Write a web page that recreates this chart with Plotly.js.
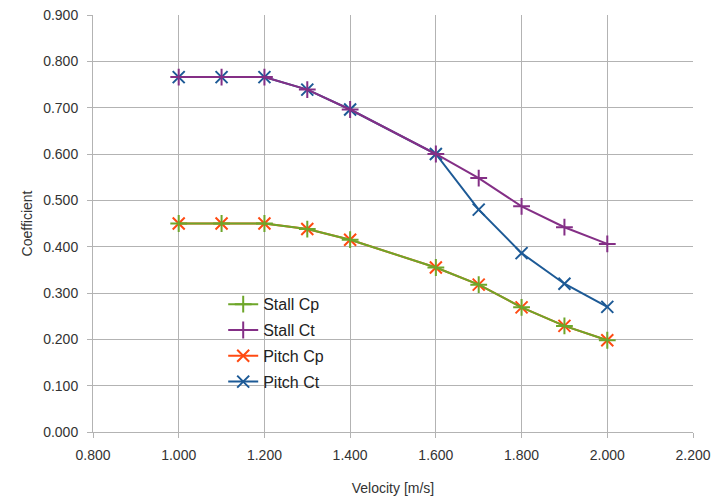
<!DOCTYPE html>
<html>
<head>
<meta charset="utf-8">
<script src="https://cdn.plot.ly/plotly-3.0.1.min.js"></script>
<style>html,body{margin:0;padding:0;background:#fff;}#chart{width:724px;height:499px;}</style>
</head>
<body>
<div id="chart"></div>
<script>
const velocity = [1.0, 1.1, 1.2, 1.3, 1.4, 1.6, 1.7, 1.8, 1.9, 2.0];
const stallCp = [0.450, 0.450, 0.450, 0.438, 0.415, 0.355, 0.318, 0.269, 0.229, 0.198];
const stallCt = [0.766, 0.766, 0.766, 0.739, 0.696, 0.600, 0.548, 0.487, 0.442, 0.406];
const pitchCp = [0.450, 0.450, 0.450, 0.438, 0.415, 0.355, 0.318, 0.269, 0.229, 0.198];
const pitchCt = [0.766, 0.766, 0.766, 0.739, 0.696, 0.600, 0.480, 0.386, 0.320, 0.270];
const xTicks = [0.8, 1.0, 1.2, 1.4, 1.6, 1.8, 2.0, 2.2];
const yTicks = [0, 0.1, 0.2, 0.3, 0.4, 0.5, 0.6, 0.7, 0.8, 0.9];

function tr(name, y, color, symbol, rank) {
  return {
    x: velocity, y: y, name: name, type: 'scatter', mode: 'lines+markers',
    line: {color: color, width: 2},
    marker: {symbol: symbol, size: 12, color: color, line: {color: color, width: 2}},
    legendgroup: name, legendrank: rank
  };
}
const data = [
  tr('Pitch Cp', pitchCp, '#ff4a12', 'x-thin', 3),
  tr('Pitch Ct', pitchCt, '#1d5a96', 'x-thin', 4),
  tr('Stall Cp', stallCp, '#6ea62a', 'cross-thin', 1),
  tr('Stall Ct', stallCt, '#842f86', 'cross-thin', 2)
];
const FAM = 'Liberation Sans, Arial, sans-serif';
const fnt = {family: FAM, size: 14, color: '#333'};
const layout = {
  width: 724, height: 499,
  margin: {l: 93, r: 31, t: 15, b: 67},
  paper_bgcolor: '#fff', plot_bgcolor: '#fff',
  font: fnt,
  showlegend: true,
  legend: {x: 0.217, y: 0.347, xanchor: 'left', yanchor: 'top', bgcolor: 'rgba(0,0,0,0)',
           font: {family: FAM, size: 16, color: '#222'},
           tracegroupgap: 2, traceorder: 'grouped'},
  xaxis: {
    range: [0.8, 2.2], tickvals: xTicks, ticktext: xTicks.map(v => v.toFixed(3)),
    showgrid: true, gridcolor: '#b3b3b3', gridwidth: 1,
    showline: true, linecolor: '#b3b3b3', ticks: 'outside', ticklen: 5, tickcolor: '#b3b3b3',
    zeroline: false, tickfont: fnt, ticklabelstandoff: 5,
    title: {text: 'Velocity [m/s]', font: {family: FAM, size: 14, color: '#333'}, standoff: 21}
  },
  yaxis: {
    range: [0, 0.9], tickvals: yTicks, ticktext: yTicks.map(v => v.toFixed(3)),
    showgrid: true, gridcolor: '#b3b3b3', gridwidth: 1,
    showline: true, linecolor: '#b3b3b3', ticks: 'outside', ticklen: 5, tickcolor: '#b3b3b3',
    zeroline: false, tickfont: fnt, ticklabelstandoff: 6,
    title: {text: 'Coefficient', font: {family: FAM, size: 14, color: '#333'}, standoff: 7}
  }
};
Plotly.newPlot('chart', data, layout, {displayModeBar: false, staticPlot: true});
</script>
</body>
</html>
